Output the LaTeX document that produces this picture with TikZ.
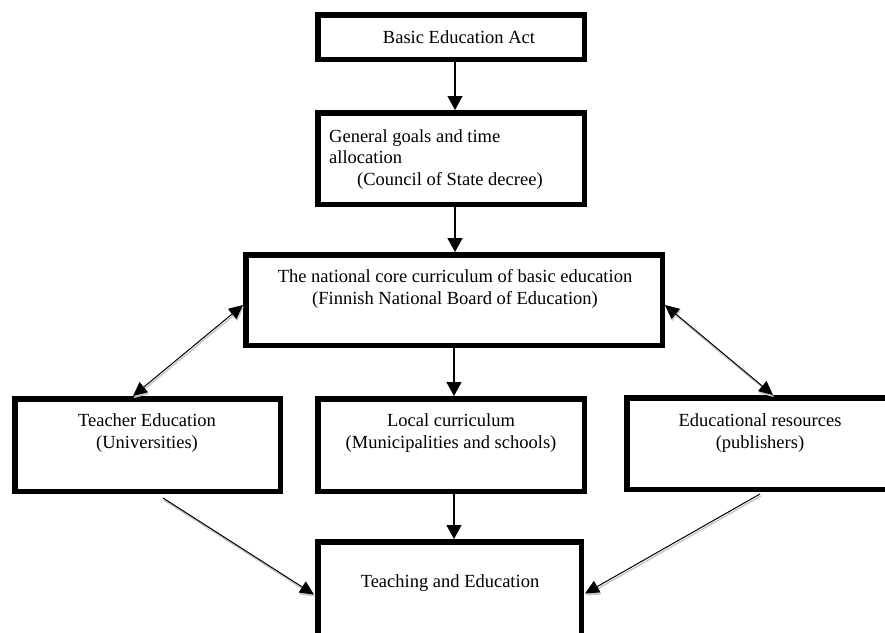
\documentclass[tikz,border=0pt]{standalone}
\usepackage{fontspec}
\setmainfont{Liberation Serif}
\usetikzlibrary{arrows.meta}
\begin{document}
\begin{tikzpicture}[x=1pt,y=-1pt,
  box/.style={draw=black, line width=5.5pt, rectangle, inner sep=0pt, fill=white},
  txt/.style={font=\fontsize{18.5}{21.5}\selectfont, inner sep=0pt, align=center, anchor=base},
  vline/.style={line width=1.3pt, -{Triangle[length=14pt,width=15pt]}},
  shadowline/.style={line width=1pt,
     preaction={draw=gray!45, line width=1.4pt, transform canvas={shift={(0.8pt,-2pt)}}}},
  dline/.style={shadowline, -{Triangle[length=14pt,width=13pt]}},
  ddline/.style={shadowline, {Triangle[length=14pt,width=13pt]}-{Triangle[length=14pt,width=13pt]}}
]
\useasboundingbox (0,0) rectangle (885,632);
\clip (0,0) rectangle (885,632);
\fill[white] (0,0) rectangle (885,632);

% boxes (outer extents measured in pixels)
\node[box, minimum width=266.5pt, minimum height=44.5pt] (B1) at (451,37) {};
\node[box, minimum width=266.5pt, minimum height=91.5pt] (B2) at (451,158.5) {};
\node[box, minimum width=416.5pt, minimum height=90.5pt] (B3) at (454,300) {};
\node[box, minimum width=265.5pt, minimum height=92.5pt] (B4) at (147.5,445) {};
\node[box, minimum width=266.5pt, minimum height=92.5pt] (B5) at (451,445) {};
\node[box, minimum width=280.5pt, minimum height=91.5pt] (B6) at (767,443.5) {};
\node[box, minimum width=263.5pt, minimum height=105.5pt] (B7) at (449.5,594.5) {};

% texts (anchor base = baseline of the last line)
\node[txt] (t1) at (459,43) {Basic Education Act};
\node[txt, align=left, anchor=base west] (t2) at (329,185) {General goals and time\\allocation\\\hspace*{28pt}(Council of State decree)};
\node[txt] (t3) at (455,304) {The national core curriculum of basic education\\(Finnish National Board of Education)};
\node[txt] (t4) at (147,448) {Teacher Education\\(Universities)};
\node[txt] (t5) at (451,448) {Local curriculum\\(Municipalities and schools)};
\node[txt] (t6) at (760,448) {Educational resources\\(publishers)};
\node[txt] (t7) at (450,587) {Teaching and Education};

% vertical arrows
\draw[vline] ([xshift=4pt]B1.south) -- ([xshift=4pt]B1.south |- B2.north);
\draw[vline] ([xshift=4pt]B2.south) -- ([xshift=4pt]B2.south |- B3.north);
\draw[vline] ([xshift=3pt]B5.north |- B3.south) -- ([xshift=3pt]B5.north);
\draw[vline] ([xshift=3pt]B5.south) -- ([xshift=3pt]B5.south |- B7.north);

% diagonal arrows
\draw[ddline] ([xshift=-14.5pt]B4.north) -- ([yshift=-5pt]B3.west);
\draw[ddline] ([yshift=-5pt]B3.east) -- ([xshift=6pt]B6.north);
\draw[dline] ([xshift=15.5pt,yshift=-4pt]B4.south) -- ([xshift=-1pt]B7.west);
\draw[dline] ([xshift=-7pt,yshift=-2pt]B6.south) -- ([xshift=1pt,yshift=1pt]B7.east);
\end{tikzpicture}
\end{document}
